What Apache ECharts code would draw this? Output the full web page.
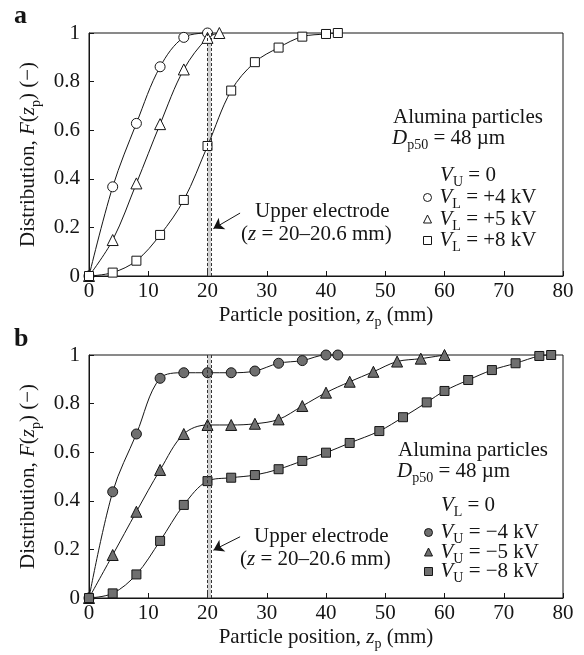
<!DOCTYPE html>
<html>
<head>
<meta charset="utf-8">
<script src="https://cdn.jsdelivr.net/npm/echarts@6/dist/echarts.min.js"></script>
<style>
html,body{margin:0;padding:0;background:#fff}
#chart{width:584px;height:655px}
</style>
</head>
<body>
<div id="chart"></div>
<script>
// Axis ranges and tick steps (both panels share them)
const xMin = 0, xMax = 80, xStep = 10;
const yMin = 0, yMax = 1, yStep = 0.2;
// Upper electrode span, z = 20–20.6 mm
const electrodeSpan = [20, 20.6];

// Panel a: V_U = 0, lower electrode at +4 / +5 / +8 kV  [z_p (mm), F(z_p)]
const aPlus4 = [[0,0],[4,0.367],[8,0.628],[12,0.861],[16,0.982],[20,1.0]];
const aPlus5 = [[0,0],[4,0.148],[8,0.381],[12,0.625],[16,0.85],[20,0.98],[22,1.0]];
const aPlus8 = [[0,0],[4,0.014],[8,0.063],[12,0.169],[16,0.313],[20,0.535],[24,0.763],[28,0.88],[32,0.94],[36,0.985],[40,0.996],[42,1.0]];

// Panel b: V_L = 0, upper electrode at −4 / −5 / −8 kV
const bMinus4 = [[0,0],[4,0.437],[8,0.675],[12,0.904],[16,0.927],[20,0.927],[24,0.927],[28,0.934],[32,0.966],[36,0.977],[40,1.0],[42,1.0]];
const bMinus5 = [[0,0],[4,0.177],[8,0.355],[12,0.527],[16,0.675],[20,0.712],[24,0.712],[28,0.717],[32,0.735],[36,0.79],[40,0.845],[44,0.89],[48,0.931],[52,0.973],[56,0.985],[60,1.0]];
const bMinus8 = [[0,0],[4,0.019],[8,0.097],[12,0.235],[16,0.383],[20,0.481],[24,0.495],[28,0.506],[32,0.53],[36,0.564],[40,0.598],[44,0.638],[49,0.687],[53,0.744],[57,0.805],[60,0.852],[64,0.897],[68,0.938],[72,0.966],[76,0.996],[78,1.0]];

// Series names and legend voltages
const namesA = ['VL +4 kV', 'VL +5 kV', 'VL +8 kV'];
const voltsA = ['+4 kV', '+5 kV', '+8 kV'];
const namesB = ['VU −4 kV', 'VU −5 kV', 'VU −8 kV'];
const voltsB = ['−4 kV', '−5 kV', '−8 kV'];
const symbols = ['circle', 'triangle', 'rect'];
const symbolSizes = [10, 11, 9];

const SERIF = '"Liberation Serif","Times New Roman",Times,serif';
const INK = '#151515';
const FS = 21;

// rich-text styles for option components
const rich = {
  n: {fontFamily: SERIF, fontSize: FS, color: INK, lineHeight: 20},
  i: {fontFamily: SERIF, fontSize: FS, color: INK, fontStyle: 'italic', lineHeight: 20},
  s: {fontFamily: SERIF, fontSize: 14, color: INK, lineHeight: 20, verticalAlign: 'bottom', padding: [0, 0, -4, 0]}
};
// rich-text styles for graphic elements (zrender style names)
const gRich = {
  n: {fontFamily: SERIF, fontSize: FS, lineHeight: 20},
  i: {fontFamily: SERIF, fontSize: FS, fontStyle: 'italic', lineHeight: 20},
  s: {fontFamily: SERIF, fontSize: 14, lineHeight: 20, verticalAlign: 'bottom', padding: [0, 0, -4, 0]}
};

const chart = echarts.init(document.getElementById('chart'), null, {renderer: 'canvas'});

function xAxisFor(gridIndex) {
  return {
    gridIndex, type: 'value', min: xMin, max: xMax, interval: xStep,
    axisLine: {show: true, lineStyle: {color: INK, width: 1}},
    axisTick: {show: true, inside: true, length: 5, lineStyle: {color: INK}},
    splitLine: {show: false},
    axisLabel: {fontFamily: SERIF, fontSize: FS, color: INK, margin: 5},
    name: '{n|Particle position, }{i|z}{s|p}{n| (mm)}',
    nameLocation: 'middle', nameGap: 29,
    nameTextStyle: {rich}
  };
}
function yAxisFor(gridIndex) {
  return {
    gridIndex, type: 'value', min: yMin, max: yMax, interval: yStep,
    axisLine: {show: true, lineStyle: {color: INK, width: 1}},
    axisTick: {show: true, inside: true, length: 5, lineStyle: {color: INK}},
    splitLine: {show: false},
    axisLabel: {fontFamily: SERIF, fontSize: FS, color: INK, margin: 9},
    name: '{n|Distribution, }{i|F}{n|(}{i|z}{s|p}{n|) (−)}',
    nameLocation: 'middle', nameGap: 44, nameRotate: 90,
    nameTextStyle: {rich}
  };
}

function curve(name, data, gi, k, fill) {
  return {
    name, type: 'line', xAxisIndex: gi, yAxisIndex: gi, data,
    smooth: 0.35, clip: false, z: 3,
    symbol: symbols[k], symbolSize: symbolSizes[k],
    lineStyle: {color: INK, width: 1},
    itemStyle: {color: fill, borderColor: INK, borderWidth: 1},
    emphasis: {disabled: true}
  };
}

// electrode band (two dashed lines, light fill between)
function electrodeMarks(s) {
  s.markArea = {
    silent: true,
    itemStyle: {color: 'rgba(150,150,150,0.45)'},
    data: [[{xAxis: electrodeSpan[0]}, {xAxis: electrodeSpan[1]}]]
  };
  s.markLine = {
    silent: true, symbol: 'none', animation: false,
    label: {show: false},
    lineStyle: {color: '#333', width: 1, type: [3, 2]},
    data: [{xAxis: electrodeSpan[0]}, {xAxis: electrodeSpan[1]}]
  };
  return s;
}
// pointer from the "Upper electrode" note to the band
function arrowMark(s, from, to) {
  s.markLine = {
    silent: true, animation: false, z: 6,
    symbol: ['none', 'arrow'], symbolSize: 10,
    label: {show: false},
    itemStyle: {color: INK},
    lineStyle: {color: INK, width: 1, type: 'solid'},
    data: [[{coord: from}, {coord: to}]]
  };
  return s;
}

const sA = [
  curve(namesA[0], aPlus4, 0, 0, '#fff'),
  curve(namesA[1], aPlus5, 0, 1, '#fff'),
  curve(namesA[2], aPlus8, 0, 2, '#fff')
];
const sB = [
  curve(namesB[0], bMinus4, 1, 0, '#6f6f6f'),
  curve(namesB[1], bMinus5, 1, 1, '#6f6f6f'),
  curve(namesB[2], bMinus8, 1, 2, '#6f6f6f')
];
electrodeMarks(sA[0]);
arrowMark(sA[1], [25.5, 0.259], [21.0, 0.195]);
electrodeMarks(sB[0]);
arrowMark(sB[1], [25.5, 0.252], [21.0, 0.197]);

function legendFor(names, volts, sub, fill, left, top, gap) {
  return {
    orient: 'vertical', left, top, padding: 0,
    itemWidth: 8, itemHeight: 8, itemGap: gap,
    selectedMode: false,
    data: names.map((n, k) => ({
      name: n, icon: symbols[k],
      itemStyle: {color: fill, borderColor: INK, borderWidth: 1}
    })),
    formatter: name => {
      const k = names.indexOf(name);
      return '{i|V}{s|' + sub + '}{n| = ' + volts[k] + '}';
    },
    textStyle: {rich, padding: [0, 0, 0, 3]}
  };
}

function label(text, x, y, align) {
  return {
    type: 'text', silent: true,
    style: {text, x, y, rich: gRich, fill: INK, align: align || 'left', verticalAlign: 'middle',
            fontFamily: SERIF, fontSize: FS}
  };
}

const option = {
  animation: false,
  backgroundColor: '#fff',
  grid: [
    {left: 89, top: 33, width: 474, height: 243, show: true, borderColor: INK, borderWidth: 1, backgroundColor: 'transparent'},
    {left: 89, top: 355, width: 474, height: 243, show: true, borderColor: INK, borderWidth: 1, backgroundColor: 'transparent'}
  ],
  xAxis: [xAxisFor(0), xAxisFor(1)],
  yAxis: [yAxisFor(0), yAxisFor(1)],
  legend: [
    legendFor(namesA, voltsA, 'L', '#fff', 423, 187, -3),
    legendFor(namesB, voltsB, 'U', '#6f6f6f', 424, 522, -5)
  ],
  series: [...sA, ...sB],
  graphic: [
    {type: 'text', silent: true, style: {text: 'a', x: 14, y: 16, fill: INK, font: 'bold 26px ' + SERIF, verticalAlign: 'middle'}},
    {type: 'text', silent: true, style: {text: 'b', x: 14, y: 339, fill: INK, font: 'bold 26px ' + SERIF, verticalAlign: 'middle'}},
    // panel a annotations
    label('{n|Alumina particles}', 393, 117),
    label('{i|D}{s|p50}{n| = 48 µm}', 392, 138),
    label('{i|V}{s|U}{n| = 0}', 468, 175, 'center'),
    label('{n|Upper electrode}', 255, 211),
    label('{n|(}{i|z}{n| = 20–20.6 mm)}', 241, 234),
    // panel b annotations
    label('{n|Alumina particles}', 398, 450),
    label('{i|D}{s|p50}{n| = 48 µm}', 397, 471),
    label('{i|V}{s|L}{n| = 0}', 468, 505, 'center'),
    label('{n|Upper electrode}', 254, 536),
    label('{n|(}{i|z}{n| = 20–20.6 mm)}', 240, 559)
  ]
};
chart.setOption(option);
</script>
</body>
</html>
